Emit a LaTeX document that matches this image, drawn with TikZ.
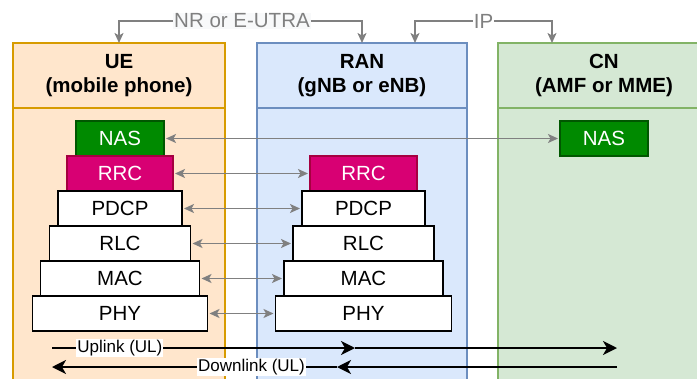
\documentclass[tikz,border=0pt]{standalone}
\usepackage{fontspec}
\setmainfont{Liberation Sans}
\usetikzlibrary{arrows.meta,positioning}
\definecolor{uefill}{HTML}{FFE6CC}
\definecolor{ueline}{HTML}{D79B00}
\definecolor{ranfill}{HTML}{DAE8FC}
\definecolor{ranline}{HTML}{6C8EBF}
\definecolor{cnfill}{HTML}{D5E8D4}
\definecolor{cnline}{HTML}{82B366}
\definecolor{nasfill}{HTML}{008A00}
\definecolor{nasline}{HTML}{005700}
\definecolor{rrcfill}{HTML}{D80073}
\definecolor{rrcline}{HTML}{A50040}
\definecolor{linkgray}{HTML}{808080}
\definecolor{labelbg}{HTML}{F8F9FA}

\tikzset{
  header/.style={draw, line width=2.5pt, minimum height=65pt, align=center, inner sep=0pt, outer sep=0pt,
    font=\fontsize{20.5}{23.5}\selectfont\bfseries},
  layer/.style={draw, line width=1.7pt, fill=white, minimum height=35pt, inner sep=0pt, outer sep=0pt,
    font=\fontsize{20.5}{24}\selectfont},
  naslayer/.style={layer, fill=nasfill, draw=nasline, line width=1.2pt, text=white},
  rrclayer/.style={layer, fill=rrcfill, draw=rrcline, line width=1.2pt, text=white},
  link/.style={<->, draw=linkgray, line width=1.7pt, shorten <=2pt, shorten >=2pt,
    >={Stealth[length=10pt,width=9pt,inset=2.5pt]}},
  bracket/.style={->, draw=linkgray, line width=1.7pt,
    >={Stealth[length=10pt,width=9pt,inset=2.5pt]}},
  flow/.style={->, line width=2pt, >={Stealth[length=14pt,width=14pt,inset=4pt]}},
  toplabel/.style={text=linkgray, inner sep=1pt, font=\fontsize{20.5}{24}\selectfont},
  flowlabel/.style={fill=white, inner sep=1pt, font=\fontsize{17}{20}\selectfont},
}

\begin{document}
\begin{tikzpicture}[x=1pt, y=-1pt, node distance=0pt]
\useasboundingbox (0,0) rectangle (697,378);

\begin{scope}
\clip (0,0) rectangle (697,378);
\filldraw [fill=uefill, draw=ueline, line width=1.3pt] (13,390) -- (13,100) -- (225,100) -- (225,390);
\filldraw [fill=ranfill, draw=ranline, line width=1.3pt] (257,390) -- (257,100) -- (467,100) -- (467,390);
\filldraw [fill=cnfill, draw=cnline, line width=1.3pt] (498,390) -- (498,100) -- (710,100) -- (710,390);
\node [header, fill=uefill, draw=ueline, minimum width=212pt] (ue) at (119,75.5) {UE\\(mobile phone)};
\node [header, fill=ranfill, draw=ranline, minimum width=210pt] (ran) at (362,75.5) {RAN\\(gNB or eNB)};
\node [header, fill=cnfill, draw=cnline, minimum width=212pt] (cn) at (604,75.5) {CN\\(AMF or MME)};
\end{scope}

\node [naslayer, minimum width=88pt] (uenas) at (120,138.5) {NAS};
\node [rrclayer, minimum width=106pt] (uerrc) [below=of uenas] {RRC};
\node [layer, minimum width=124pt] (uepdcp) [below=of uerrc] {PDCP};
\node [layer, minimum width=141pt] (uerlc) [below=of uepdcp] {RLC};
\node [layer, minimum width=159pt] (uemac) [below=of uerlc] {MAC};
\node [layer, minimum width=175pt] (uephy) [below=of uemac] {PHY};

\node [rrclayer, minimum width=107pt] (ranrrc) at (363.5,173.5) {RRC};
\node [layer, minimum width=123pt] (ranpdcp) [below=of ranrrc] {PDCP};
\node [layer, minimum width=141pt] (ranrlc) [below=of ranpdcp] {RLC};
\node [layer, minimum width=159pt] (ranmac) [below=of ranrlc] {MAC};
\node [layer, minimum width=176pt] (ranphy) [below=of ranmac] {PHY};

\node [naslayer, minimum width=88pt] (cnnas) at (604,138.5) {NAS};

\draw [link] (uenas.east) -- (cnnas.west);
\draw [link] (uerrc.east) -- (ranrrc.west);
\draw [link] (uepdcp.east) -- (ranpdcp.west);
\draw [link] (uerlc.east) -- (ranrlc.west);
\draw [link] (uemac.east) -- (ranmac.west);
\draw [link] (uephy.east) -- (ranphy.west);

\node [toplabel, fill=labelbg] (nr) at (242,21) {NR or E-UTRA};
\node [toplabel] (ip) at (483.5,21) {IP};
\coordinate (ranip) at (415,43);
\coordinate (cnip) at (552,43);
\draw [bracket] (nr.west) -| (ue.north);
\draw [bracket] (nr.east) -| (ran.north);
\draw [bracket] (ip.west) -| (ranip);
\draw [bracket] (ip.east) -| (cnip);

\coordinate (ulstart) at (52,348);
\coordinate (ulmid) at (355,348);
\coordinate (ulend) at (617,348);
\coordinate (dlstart) at (617,367);
\coordinate (dlmid) at (337,367);
\coordinate (dlend) at (52,367);
\draw [flow] (ulstart) -- node [flowlabel, pos=0.224] {Uplink (UL)} (ulmid);
\draw [flow] (ulmid) -- (ulend);
\draw [flow] (dlstart) -- (dlmid);
\draw [flow] (dlmid) -- node [flowlabel, pos=0.30] {Downlink (UL)} (dlend);
\end{tikzpicture}
\end{document}
